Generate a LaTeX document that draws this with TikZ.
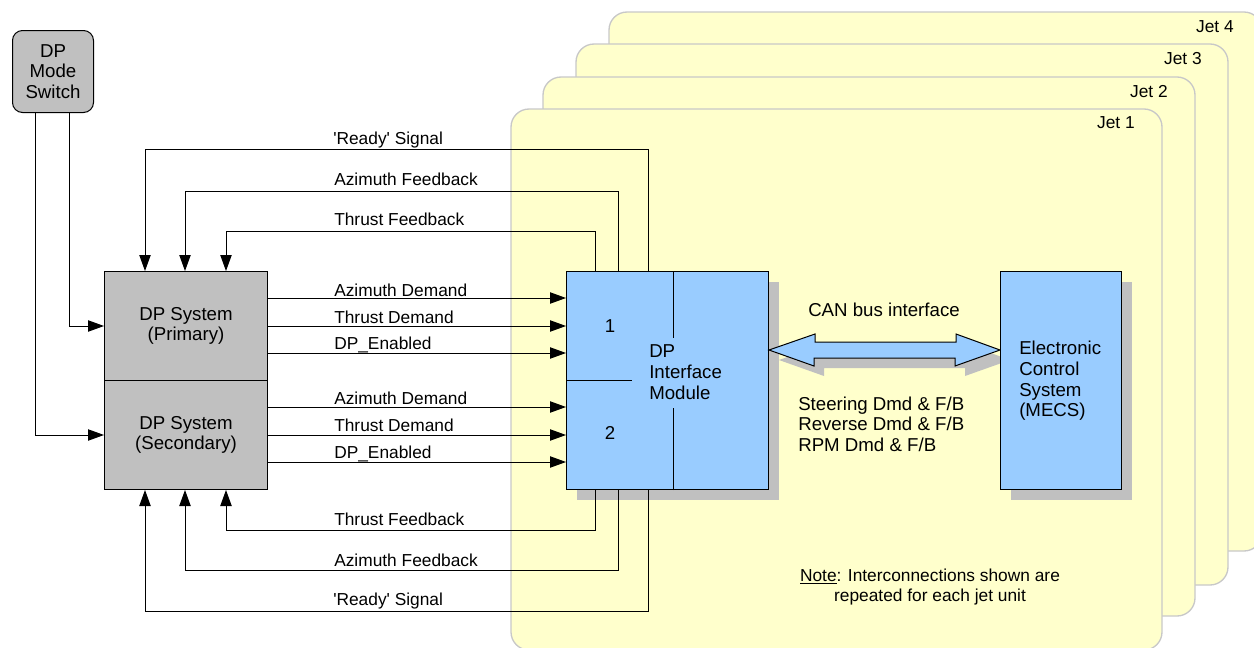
\documentclass[tikz,border=0pt]{standalone}
\usepackage{fontspec}
\setmainfont{Liberation Sans}
\usetikzlibrary{arrows.meta,calc,shadows}
\definecolor{panelfill}{HTML}{FFFFCC}
\definecolor{paneledge}{HTML}{C8C8C8}
\definecolor{boxgray}{HTML}{C0C0C0}
\definecolor{boxblue}{HTML}{99CCFF}
\definecolor{shadowgray}{HTML}{C0C0C0}
\newcommand{\sq}{\textquotesingle}
\begin{document}
\begin{tikzpicture}[x=0.75pt,y=-0.75pt,
  font=\fontsize{13}{15.5}\selectfont,
  big/.style={font=\fontsize{14}{15.5}\selectfont},
  panel/.style={draw=paneledge, line width=1pt, fill=panelfill, rounded corners=13.5pt},
  txt/.style={inner sep=0pt},
  lbl/.style={anchor=base west, inner sep=0pt},
  wire/.style={draw=black, line width=0.75pt},
  arr/.style={wire, -{Triangle[length=12pt,width=8.5pt]}},
  gbox/.style={draw=black, line width=0.75pt, fill=boxgray, inner sep=0pt, anchor=north west, big},
  bbox/.style={draw=black, line width=0.75pt, fill=boxblue, inner sep=0pt, anchor=north west},
  shade/.style={fill=shadowgray},
  dshadow/.style={drop shadow={shadow xshift=7.5pt, shadow yshift=-7.5pt, fill=shadowgray, opacity=1}}
]
\useasboundingbox (0,0) rectangle (1254,647);
\clip (0,0) rectangle (1254,647);

% jet panels
\draw[panel] (609,12) rectangle (1262,551);
\draw[panel] (576,44) rectangle (1228,585);
\draw[panel] (543,77) rectangle (1195,616);
\draw[panel] (511,109) rectangle (1162,650);
\node[txt, anchor=base east] (j4) at (1234,32) {Jet 4};
\node[txt, anchor=base east] (j3) at (1202,64.5) {Jet 3};
\node[txt, anchor=base east] (j2) at (1168,97) {Jet 2};
\node[txt, anchor=base east] (j1) at (1135,128.5) {Jet 1};

% boxes
\node[gbox, rounded corners=7.5pt, minimum width=81*0.75pt, minimum height=82*0.75pt, align=center] (sw) at (12,30) {DP\\Mode\\Switch};
\node[gbox, minimum width=163*0.75pt, minimum height=109*0.75pt, align=center] (pri) at (104,271) {DP System\\(Primary)};
\node[gbox, minimum width=163*0.75pt, minimum height=109*0.75pt, align=center] (sec) at (104,380) {DP System\\(Secondary)};
\node[bbox, dshadow, minimum width=202*0.75pt, minimum height=218*0.75pt] (mod) at (566,271) {};

% module internals
\draw[wire] ($(mod.north west)+(107,0)$) -- ++(0,67);
\draw[wire] ($(mod.south west)+(107,0)$) -- ++(0,-82);
\draw[wire] (mod.west) -- ++(66,0);
\node[txt, big] (n1) at (610,326) {1};
\node[txt, big] (n2) at (610,433) {2};
\node[txt, big, anchor=west, align=left] (modtxt) at (649,372) {DP\\Interface\\Module};

% CAN bus arrow
\coordinate (canL) at ($(mod.north east)+(0,79)$);
\coordinate (canR) at (1000,350);
\fill[shade] ($(canL)+(10,10)$) -- ++(46,-16) -- ++(0,8) -- ++(141,0) -- ++(0,-8) -- ($(canR)+(10,10)$) -- ++(-45,16) -- ++(0,-8) -- ++(-141,0) -- ++(0,8) -- cycle;
\draw[line width=0.75pt, fill=boxblue] (canL) -- ++(46,-16) -- ++(0,8) -- ++(141,0) -- ++(0,-8) -- (canR) -- ++(-45,16) -- ++(0,-8) -- ++(-141,0) -- ++(0,8) -- cycle;

\node[bbox, dshadow, minimum width=121*0.75pt, minimum height=218*0.75pt] (ecs) at (1000,271) {};
\node[txt, big, anchor=west, align=left] (ecstxt) at (1019,381) {Electronic\\Control\\System\\(MECS)};

\node[txt, big, anchor=base] (can) at (884,316) {CAN bus interface};
\node[txt, big, anchor=west, align=left] (sig) at (798,424) {Steering Dmd \& F/B\\Reverse Dmd \& F/B\\RPM Dmd \& F/B};
\node[txt, align=center] (note) at (930,587) {\underline{Note}: Interconnections shown are\\repeated for each jet unit};

% mode switch wires
\draw[arr] ($(sw.south west)+(23,0)$) |- (sec.west);
\draw[arr] ($(sw.south west)+(57,0)$) |- (pri.west);

% top feedback
\draw[arr] ($(mod.north west)+(82,0)$) -- ++(0,-122) -| ($(pri.north west)+(41,0)$);
\draw[arr] ($(mod.north west)+(52,0)$) -- ++(0,-80) -| ($(pri.north west)+(81,0)$);
\draw[arr] ($(mod.north west)+(29,0)$) -- ++(0,-40) -| ($(pri.north west)+(122,0)$);
\node[lbl] (lr1) at (333,144.5) {\sq Ready\sq\ Signal};
\node[lbl] (la1) at (334,185) {Azimuth Feedback};
\node[lbl] (lt1) at (334,225.5) {Thrust Feedback};

% demands
\draw[arr] ($(pri.north east)+(0,27)$) -- ($(mod.north west)+(0,27)$);
\draw[arr] ($(pri.north east)+(0,55)$) -- ($(mod.north west)+(0,55)$);
\draw[arr] ($(pri.north east)+(0,82)$) -- ($(mod.north west)+(0,82)$);
\draw[arr] ($(pri.north east)+(0,136)$) -- ($(mod.north west)+(0,136)$);
\draw[arr] ($(pri.north east)+(0,164)$) -- ($(mod.north west)+(0,164)$);
\draw[arr] ($(pri.north east)+(0,191)$) -- ($(mod.north west)+(0,191)$);
\node[lbl] (ld1) at (334,296) {Azimuth Demand};
\node[lbl] (ld2) at (334,323) {Thrust Demand};
\node[lbl] (ld3) at (334,349.5) {DP\_Enabled};
\node[lbl] (ld4) at (334,404) {Azimuth Demand};
\node[lbl] (ld5) at (334,431) {Thrust Demand};
\node[lbl] (ld6) at (334,458) {DP\_Enabled};

% bottom feedback
\draw[arr] ($(mod.south west)+(29,0)$) -- ++(0,40) -| ($(sec.south west)+(122,0)$);
\draw[arr] ($(mod.south west)+(52,0)$) -- ++(0,80) -| ($(sec.south west)+(81,0)$);
\draw[arr] ($(mod.south west)+(82,0)$) -- ++(0,121) -| ($(sec.south west)+(41,0)$);
\node[lbl] (lt2) at (334,525) {Thrust Feedback};
\node[lbl] (la2) at (334,566) {Azimuth Feedback};
\node[lbl] (lr2) at (333,605) {\sq Ready\sq\ Signal};
\end{tikzpicture}
\end{document}
